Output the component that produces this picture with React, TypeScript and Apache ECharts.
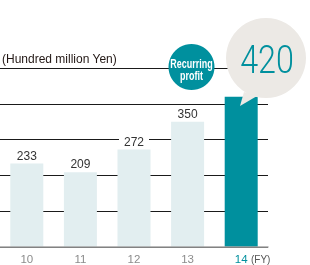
import React, { useEffect, useRef } from "react";
import * as echarts from "echarts";

const categories = ["10", "11", "12", "13", "14"];
const values = [233, 209, 272, 350, 420];
const unitLabel = "(Hundred million Yen)";
const badgeLabel = "Recurring\nprofit";
const highlightValue = "420";
const fyLabel = "(FY)";

const TEAL = "#00909e";
const LIGHT = "#e2eef0";
const FONT = "Liberation Sans, Arial, sans-serif";

export default function App() {
  const ref = useRef<HTMLDivElement>(null);
  useEffect(() => {
    if (!ref.current) return;
    const chart = echarts.init(ref.current, undefined, { renderer: "svg" });
    const last = values.length - 1;
    chart.setOption({
      animation: false,
      textStyle: { fontFamily: FONT },
      grid: { left: 0, top: 68, width: 268, height: 180 },
      xAxis: {
        type: "category",
        data: categories,
        z: 5,
        axisLine: { show: true, lineStyle: { color: "#a5a5a5", width: 1.5 } },
        axisTick: { show: false },
        axisLabel: {
          margin: 6,
          fontSize: 11,
          fontFamily: FONT,
          formatter: (v: string, i: number) => (i === last ? `{hi|${v}}` : `{n|${v}}`),
          rich: {
            n: { color: "#8c8c8c", fontSize: 11.5, fontFamily: FONT },
            hi: { color: TEAL, fontSize: 11.5, fontFamily: FONT },
          },
        },
      },
      yAxis: {
        type: "value",
        min: 0,
        max: 500,
        interval: 100,
        axisLabel: { show: false },
        axisLine: { show: false },
        axisTick: { show: false },
        splitLine: { show: true, lineStyle: { color: "#1a1a1a", width: 1 } },
      },
      series: [
        {
          type: "bar",
          barWidth: 33,
          data: values.map((v, i) => ({
            value: v,
            itemStyle: { color: i === last ? TEAL : LIGHT },
            label: { show: i !== last },
          })),
          label: {
            show: true,
            position: "top",
            distance: 2,
            color: "#333",
            fontSize: 12,
            fontFamily: FONT,
            backgroundColor: "#fff",
            padding: [0, 5],
          },
        },
      ],
      graphic: [
        {
          type: "text",
          left: 2,
          top: 53,
          z: 10,
          style: { text: unitLabel, font: `12px ${FONT}`, fill: "#231815" },
        },
        {
          type: "text",
          x: 251,
          y: 259,
          z: 10,
          style: { text: fyLabel, font: `10px ${FONT}`, fill: "#555", verticalAlign: "middle" },
        },
        {
          type: "circle",
          z: 100,
          shape: { cx: 191.5, cy: 67, r: 23 },
          style: { fill: TEAL },
        },
        {
          type: "text",
          x: 191.5,
          y: 69,
          z: 101,
          scaleX: 0.75,
          style: {
            text: badgeLabel,
            font: `bold 12px ${FONT}`,
            fill: "#fff",
            align: "center",
            verticalAlign: "middle",
            lineHeight: 12,
          },
        },
        {
          type: "polygon",
          z: 100,
          shape: { points: [[244, 92], [257, 96], [240, 106]] },
          style: { fill: "#ece9e5" },
        },
        {
          type: "circle",
          z: 100,
          shape: { cx: 266, cy: 58, r: 40 },
          style: { fill: "#ece9e5" },
        },
        {
          type: "text",
          x: 267,
          y: 60,
          z: 101,
          scaleX: 0.85,
          style: {
            text: highlightValue,
            font: `300 38px Roboto, ${FONT}`,
            fill: TEAL,
            align: "center",
            verticalAlign: "middle",
          },
        },
      ],
    });
    return () => chart.dispose();
  }, []);
  return (
    <div
      ref={ref}
      style={{ position: "fixed", left: 0, top: 0, width: 310, height: 265 }}
    />
  );
}
